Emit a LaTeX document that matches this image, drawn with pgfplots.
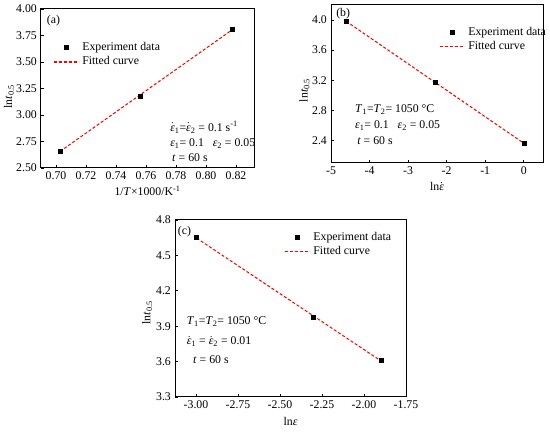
\documentclass[border=0pt]{standalone}
\usepackage{fontspec}
\setmainfont{Liberation Serif}
\usepackage{pgfplots}
\pgfplotsset{compat=1.18}
\newcommand{\eps}{\textit{ε}}
\newcommand{\deps}{\ensuremath{\dot{\mbox{\textit{ε}}}}}
\newcommand{\fs}{\fontsize{11.8}{14}\selectfont}
\pgfplotsset{panel/.style={
  scale only axis, anchor=south west,
  tick pos=left, tick align=inside, major tick length=3pt,
  axis line style={line width=1pt},
  every tick/.style={black,line width=0.8pt},
  tick label style={font=\fs},
  label style={font=\fs},
  /pgf/number format/assume math mode=true,
  /pgf/number format/fixed, /pgf/number format/fixed zerofill,
  legend cell align=left,
  legend style={draw=none, fill=none, font=\fs, inner sep=0pt,
    row sep=1.5pt, column sep=2pt, anchor=north west,
    nodes={inner sep=1pt, text height=8.5pt, text depth=2.5pt}},
  legend image code/.code={\draw[mark repeat=2,mark phase=2,##1] plot coordinates {(0pt,0pt) (12.5pt,0pt) (25pt,0pt)};},
  legend image post style={line width=1.2pt},
  ylabel={ln\textit{t}\textsubscript{0.5}},
  xlabel style={anchor=center},
  ylabel style={anchor=center},
},
datastyle/.style={only marks, mark=square*, mark size=2pt, black},
fitstyle/.style={no marks, color=red, line width=1pt, dash pattern=on 3pt off 2pt},
}
\begin{document}
\fs
\begin{tikzpicture}
\useasboundingbox (0,0) rectangle (550pt,435pt);
% (a)
\begin{axis}[panel, at={(41pt,267pt)}, width=213pt, height=159pt,
  xmin=0.69, xmax=0.832, ymin=2.5, ymax=4.0,
  xtick={0.70,0.72,0.74,0.76,0.78,0.80,0.82},
  ytick={2.50,2.75,3.00,3.25,3.50,3.75,4.00},
  /pgf/number format/precision=2,
  xlabel={1/\textit{T}×1000/K\textsuperscript{-1}},
  xlabel style={at={(axis description cs:0.5,-0.145)}},
  ylabel style={at={(axis description cs:-0.15,0.447)}},
  legend style={at={(0.056,0.80)}}]
\addplot[datastyle] coordinates {(0.7027,2.66) (0.7559,3.18) (0.8177,3.81)};
\addlegendentry{Experiment data}
\addplot[fitstyle] coordinates {(0.7027,2.656) (0.8177,3.806)};
\addlegendentry{Fitted curve}
\node[anchor=base west, inner sep=0pt, font=\fs] at (rel axis cs:0.027,0.909) {(a)};
\node[anchor=base west, inner sep=0pt, font=\fs] at (rel axis cs:0.606,0.231) {\deps\textsubscript{1}=\deps\textsubscript{2} = 0.1 s\textsuperscript{-1}};
\node[anchor=base west, inner sep=0pt, font=\fs] at (rel axis cs:0.606,0.133) {\eps\textsubscript{1}= 0.1~~ \eps\textsubscript{2} = 0.05};
\node[anchor=base west, inner sep=0pt, font=\fs] at (rel axis cs:0.615,0.043) {\textit{t} = 60 s};
\end{axis}
% (b)
\begin{axis}[panel, at={(331pt,272pt)}, width=212pt, height=158pt,
  xmin=-5, xmax=0.5, ymin=2.1, ymax=4.2,
  xtick={-5,-4,-3,-2,-1,0},
  ytick={2.4,2.8,3.2,3.6,4.0},
  xticklabel style={/pgf/number format/precision=0},
  yticklabel style={/pgf/number format/precision=1},
  xlabel={ln\deps},
  xlabel style={at={(axis description cs:0.5,-0.15)}},
  ylabel style={at={(axis description cs:-0.125,0.46)}},
  legend style={at={(0.509,0.87)}}]
\addplot[datastyle] coordinates {(-4.605,3.98) (-2.303,3.18) (0,2.36)};
\addlegendentry{Experiment data}
\addplot[fitstyle] coordinates {(-4.605,3.983) (0,2.363)};
\addlegendentry{Fitted curve}
\node[anchor=base west, inner sep=0pt, font=\fs] at (rel axis cs:0.024,0.927) {(b)};
\node[anchor=base west, inner sep=0pt, font=\fs] at (rel axis cs:0.113,0.318) {\textit{T}\textsubscript{1}=\textit{T}\textsubscript{2}= 1050 °C};
\node[anchor=base west, inner sep=0pt, font=\fs] at (rel axis cs:0.113,0.218) {\eps\textsubscript{1}= 0.1~~ \eps\textsubscript{2} = 0.05};
\node[anchor=base west, inner sep=0pt, font=\fs] at (rel axis cs:0.123,0.117) {\textit{t} = 60 s};
\end{axis}
% (c)
\begin{axis}[panel, at={(175pt,38pt)}, width=231pt, height=177pt,
  xmin=-3.125, xmax=-1.75, ymin=3.3, ymax=4.8,
  xtick={-3.00,-2.75,-2.50,-2.25,-2.00,-1.75},
  ytick={3.3,3.6,3.9,4.2,4.5,4.8},
  xticklabel style={/pgf/number format/precision=2},
  yticklabel style={/pgf/number format/precision=1},
  xlabel={ln\eps},
  xlabel style={at={(axis description cs:0.5,-0.14)}},
  ylabel style={at={(axis description cs:-0.12,0.475)}},
  legend style={at={(0.472,0.94)}}]
\addplot[datastyle] coordinates {(-2.996,4.65) (-2.303,3.98) (-1.897,3.61)};
\addlegendentry{Experiment data}
\addplot[fitstyle] coordinates {(-2.996,4.646) (-1.897,3.604)};
\addlegendentry{Fitted curve}
\node[anchor=base west, inner sep=0pt, font=\fs] at (rel axis cs:0.012,0.918) {(c)};
\node[anchor=base west, inner sep=0pt, font=\fs] at (rel axis cs:0.051,0.41) {\textit{T}\textsubscript{1}=\textit{T}\textsubscript{2}= 1050 °C};
\node[anchor=base west, inner sep=0pt, font=\fs] at (rel axis cs:0.051,0.297) {\deps\textsubscript{1} = \deps\textsubscript{2} = 0.01};
\node[anchor=base west, inner sep=0pt, font=\fs] at (rel axis cs:0.078,0.188) {\textit{t} = 60 s};
\end{axis}
\end{tikzpicture}
\end{document}
